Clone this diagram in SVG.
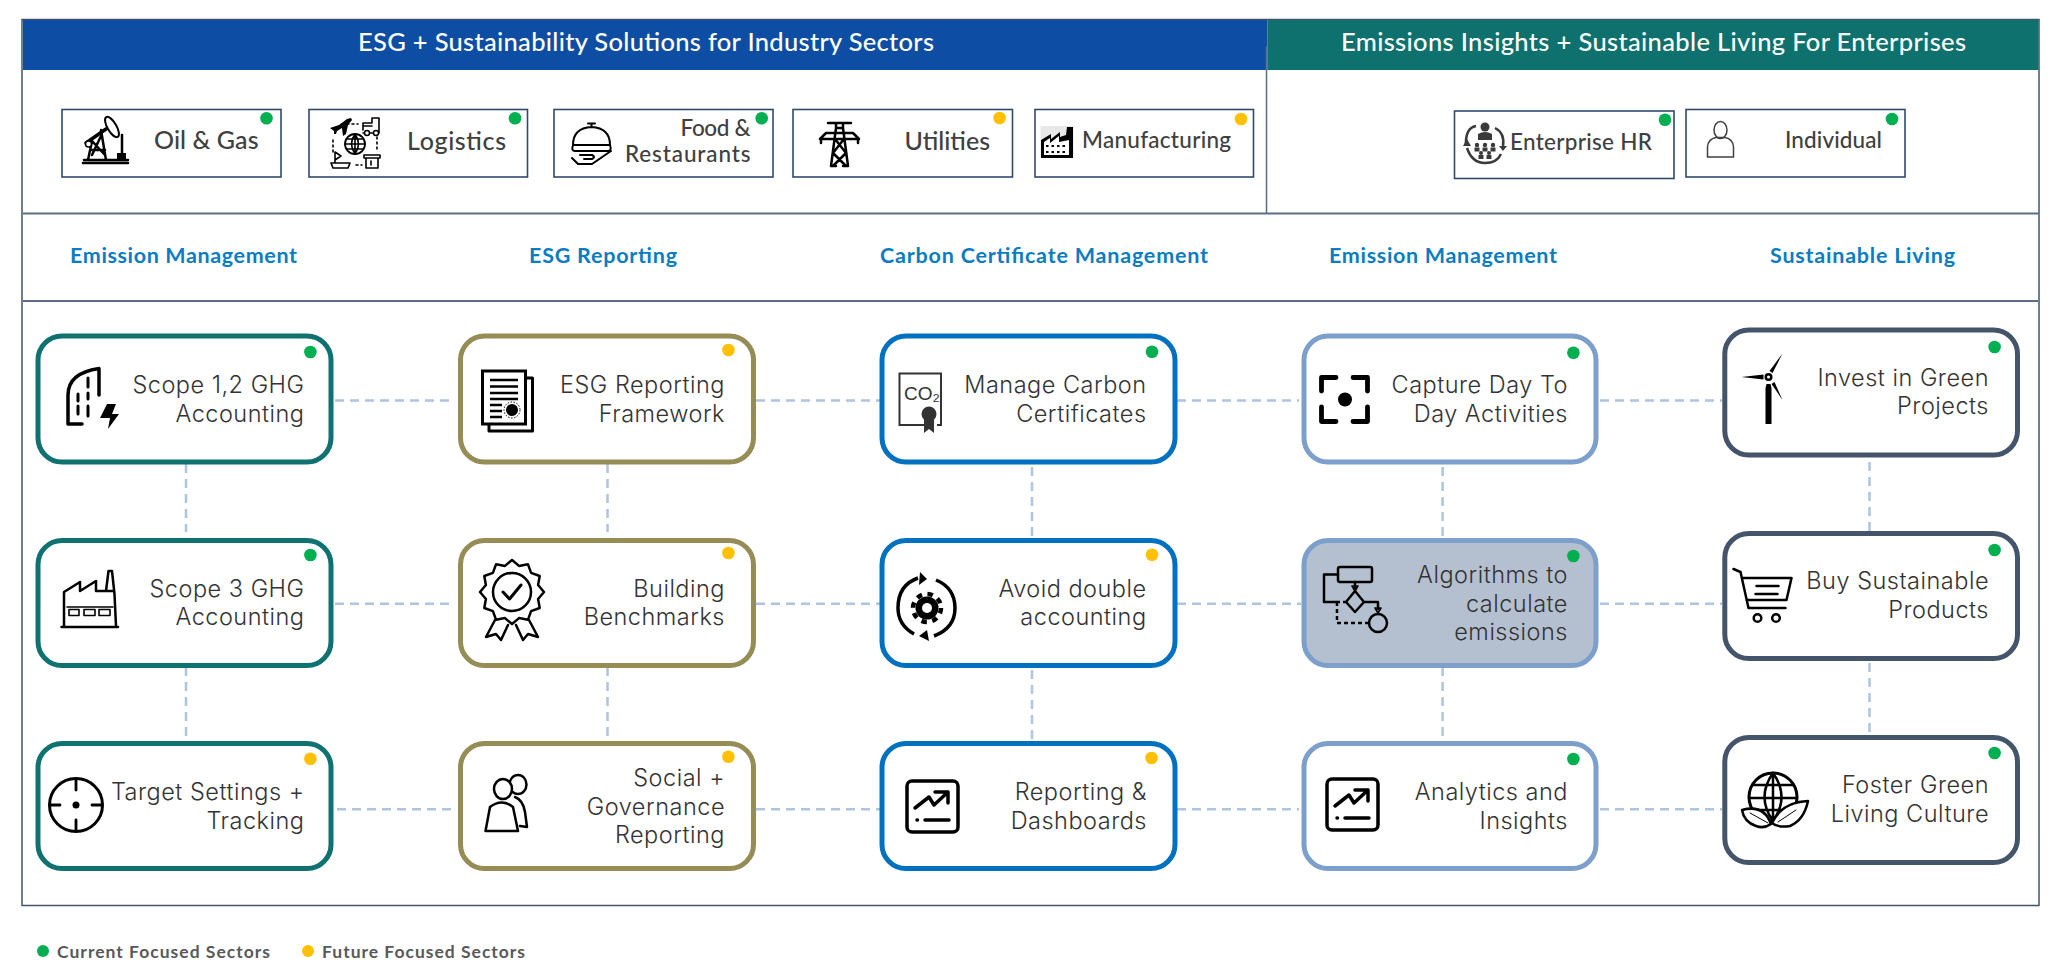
<svg xmlns="http://www.w3.org/2000/svg" width="2048" height="977" viewBox="0 0 2048 977">
<style>
text{font-family:"Lato","Liberation Sans",sans-serif}
.hd{font-size:25.500px;font-weight:500;fill:#fff}
.sub{font-size:21.500px;font-weight:700;fill:#0A7DC2}
.sec{font-size:25px;font-weight:500;fill:#404040}
.sec2{font-size:22.500px;font-weight:500;fill:#404040}
.n{font-family:"Inter","Liberation Sans",sans-serif;font-size:23.500px;font-weight:300;letter-spacing:.5px;fill:#333;text-anchor:end}
.lg{font-size:17.500px;font-weight:700;fill:#595959}
.box{fill:#fff;stroke:#2F4A6D;stroke-width:1.600}
.c1,.c2,.c3,.c4,.c5{fill:#fff;stroke-width:5}
.c1{stroke:#0F7270}.c2{stroke:#968C55}.c3{stroke:#0070C0}.c4{stroke:#7C9FCB}.c5{stroke:#44546A}
.g{fill:#00B050}.y{fill:#FFC000}
.rule{stroke:#5A6E8A;stroke-width:2;fill:none}
.ln{fill:none;stroke:#000;stroke-width:2.500;stroke-linecap:round;stroke-linejoin:round}
.th{stroke-width:1.600}
.k{fill:#000}
#connectors path{fill:none;stroke:#AFC4DE;stroke-width:2.500;stroke-dasharray:9 6}
</style>
<defs>
<g id="chart">
<rect x="907" y="781" width="51" height="51" rx="5" class="ln" style="stroke-width:3.500"/>
<path class="ln" style="stroke-width:3.500" d="M915 808L929 797L934 805L948 792M935 792H948V803"/>
<path class="ln" style="stroke-width:3.500" d="M925 820H949M917 820h.5"/>
</g>
</defs>
<rect width="2048" height="977" fill="#fff"/>
<g id="frame">
<rect x="22" y="19.500" width="2017" height="886" fill="#fff" stroke="#44546A" stroke-width="1.500"/>
<rect x="23" y="20" width="1244.500" height="50" fill="#0E4DA4"/>
<rect x="1267.500" y="20" width="771" height="50" fill="#0E716E"/>
<path class="rule" style="stroke-width:1.500" d="M1266.500 46V213"/>
<path class="rule" d="M23 213.500H2039M23 301H2038"/>
<text class="hd" x="358" y="51" textLength="576">ESG + Sustainability Solutions for Industry Sectors</text>
<text class="hd" x="1341" y="51" textLength="625">Emissions Insights + Sustainable Living For Enterprises</text>
<text class="sub" x="70" y="263" textLength="227">Emission Management</text>
<text class="sub" x="529" y="263" textLength="148">ESG Reporting</text>
<text class="sub" x="880" y="263" textLength="328">Carbon Certificate Management</text>
<text class="sub" x="1329" y="263" textLength="228">Emission Management</text>
<text class="sub" x="1770" y="263" textLength="185">Sustainable Living</text>
</g>
<g id="connectors">
<path d="M335 400.500H455M756 400.500H880M1177 400.500H1299M1600 400.500H1722"/>
<path d="M335 603.700H452M756 603.700H880M1177 603.700H1301M1600 603.700H1722"/>
<path d="M337 809.300H456M756 809.300H880M1177 809.300H1299M1600 809.300H1722"/>
<path d="M186 464V532M186 667V740M607.500 464V532M607.500 667V740M1032 467V538M1032 670V741M1442.600 467V537M1442.600 667V739M1869.500 462V531M1869.500 663V735"/>
</g>
<g id="sector-oil">
<rect class="box" x="62" y="109.500" width="219" height="67.500"/>
<path class="ln" d="M83 163H128M84 160H128M88 160L92 141M106 160L101 130M90 150L105 150M92 141L105 155M92 155L101 136"/>
<path class="ln" style="stroke-width:3.500" d="M86 143L106 129"/>
<ellipse cx="112" cy="127" rx="4.500" ry="11.500" transform="rotate(-30 112 127)" fill="#fff" stroke="#000" stroke-width="2"/>
<circle cx="88.500" cy="144" r="3" fill="#fff" stroke="#000" stroke-width="1.500"/>
<path class="ln" d="M122 135V154"/>
<rect class="k" x="117" y="153" width="9" height="7"/>
<circle class="g" cx="266.500" cy="118.300" r="6.300"/>
<text class="sec" x="154" y="149" textLength="104.500">Oil &amp; Gas</text>
</g>
<g id="sector-logistics">
<rect class="box" x="309" y="109.500" width="218.500" height="67.500"/>
<path class="k" d="M330 128l9-3 8-6 4-1 1 2-4 5-2 9-3 2-1-8-5 3-1 3-2 0 0-3z"/>
<path class="ln th" d="M363 130V123H372V118H379V133H363M363 126H372"/>
<circle cx="367" cy="133" r="2.500" fill="#fff" stroke="#000" stroke-width="1.500"/><circle cx="376" cy="133" r="2.500" fill="#fff" stroke="#000" stroke-width="1.500"/>
<circle class="ln" style="stroke-width:1.800" cx="355" cy="144" r="10"/>
<path class="ln th" d="M345 144H365M347 139H363M347 149H363M355 134V154M355 134Q348 144 355 154M355 134Q362 144 355 154"/>
<path class="ln th" style="stroke-dasharray:2 3" d="M333 140V152M377 137V150M342 124H358M356 165H362"/>
<path class="ln th" d="M335 163V152L341 156L335 160M331 163H350L348 168H333Z"/>
<path class="ln th" d="M364 155H380V158H364ZM366 158V168H378V158M371 161V165"/>
<circle class="g" cx="515" cy="118.300" r="6.300"/>
<text class="sec" x="407" y="149.500" textLength="99">Logistics</text>
</g>
<g id="sector-food">
<rect class="box" x="554" y="109.500" width="219" height="67.500"/>
<path class="ln" style="stroke-width:2" d="M573 145Q573 128 591.500 127Q610 128 610 145ZM588 123.500H595M591.500 124V127"/>
<path class="ln" style="stroke-width:2" d="M573 145Q571 151 575 151H608Q612 151 610 145M572 158L578 164H592L611 151M580 155H592Q596 157 592 159H584"/>
<circle class="g" cx="761.700" cy="118.300" r="6.300"/>
<text class="sec2" x="750.500" y="136" text-anchor="end" textLength="70">Food &amp;</text>
<text class="sec2" x="750.500" y="162" text-anchor="end" textLength="125.500">Restaurants</text>
</g>
<g id="sector-utilities">
<rect class="box" x="793" y="109.500" width="219.500" height="67.500"/>
<path class="ln" d="M831 166L836 128H843L848 166M828 123H851M836 123V128M843 123V128M821 143V139H858V143M826 133H853L859 139M826 133L820 139M835 139L846 153L833 166M844 139L833 153L846 166M831 166H836M843 166H848"/>
<circle class="y" cx="999.600" cy="118" r="6.300"/>
<text class="sec" x="904.500" y="149.500" textLength="85.500">Utilities</text>
</g>
<g id="sector-manufacturing">
<rect class="box" x="1035" y="109.500" width="218.500" height="67.500"/>
<rect x="1040.500" y="126" width="33" height="32" fill="#E8E8E8"/>
<path class="k" d="M1041 158V140L1051 134V139L1060 132V137L1066 135L1067 127H1073V158Z"/>
<path fill="#fff" d="M1044 142L1050 138V143L1059 136V142L1069 140V155H1044Z"/>
<path class="ln" style="stroke-width:2;stroke-dasharray:2.500 3;stroke-linecap:butt" d="M1046 146H1068M1046 152H1068"/>
<circle class="y" cx="1241" cy="119" r="6.300"/>
<text class="sec2" x="1082" y="148" textLength="149">Manufacturing</text>
</g>
<g id="sector-hr">
<rect class="box" x="1454.500" y="111" width="219.500" height="67.500"/>
<path fill="none" stroke="#3A3A3A" stroke-width="2.500" d="M1466 146Q1465 128 1476 126M1495 128Q1505 133 1503 146M1467 148Q1472 163 1485 163Q1497 163 1501 154"/>
<path fill="#3A3A3A" d="M1463 146L1467 139L1471 146ZM1499 146L1507 146L1503 151Z"/>
<circle cx="1485" cy="127" r="4.500" fill="#3A3A3A"/><path fill="#3A3A3A" d="M1478 140V134Q1485 130 1492 134V140Z"/>
<g fill="#3A3A3A">
<circle cx="1477" cy="145" r="2.200"/><circle cx="1485" cy="145" r="2.200"/><circle cx="1493" cy="145" r="2.200"/>
<rect x="1474.500" y="147.500" width="5" height="4"/><rect x="1482.500" y="147.500" width="5" height="4"/><rect x="1490.500" y="147.500" width="5" height="4"/>
<circle cx="1481" cy="153" r="2"/><circle cx="1489" cy="153" r="2"/><rect x="1478.500" y="155" width="5" height="4"/><rect x="1486.500" y="155" width="5" height="4"/>
</g>
<circle class="g" cx="1665" cy="119.700" r="6.300"/>
<text class="sec2" x="1510" y="150" textLength="142">Enterprise HR</text>
</g>
<g id="sector-individual">
<rect class="box" x="1686" y="109.500" width="219" height="67.500"/>
<ellipse cx="1720.500" cy="130" rx="6.500" ry="8.500" fill="none" stroke="#404040" stroke-width="1.500"/>
<path fill="none" stroke="#404040" stroke-width="1.500" d="M1707.500 157V147Q1708 139 1716 137.500H1725Q1733 139 1733.500 147V157Z"/>
<circle class="g" cx="1892" cy="119" r="6.300"/>
<text class="sec2" x="1785" y="148" textLength="97">Individual</text>
</g>

<g id="node-scope12">
<rect class="c1" x="38" y="336" width="293" height="126" rx="24"/>
<path class="ln" style="stroke-width:3.500" d="M82 424H68V395Q68 373 99 368.500V395"/>
<path class="ln" style="stroke-width:3" d="M88 378V387M88 393V399M88 406V416M78 394V401M78 406V414"/>
<path class="k" d="M107 404H116L112 414H119L108 429L110 418H100Z"/>
<circle class="g" cx="310.400" cy="352" r="6.300"/>
<text class="n" x="304.500" y="392.700">Scope 1,2 GHG</text><text class="n" x="304.500" y="421.700">Accounting</text>
</g>
<g id="node-scope3">
<rect class="c1" x="38" y="540.500" width="293" height="125" rx="24"/>
<path class="ln" d="M61.500 627H118M64 626V592L80 582V591L96 581V591H114M106 591L108.500 571H112L114.500 594L116 626"/>
<path class="ln" style="stroke-width:1.600" d="M67 607H113M69 609.500H79V615.500H69ZM84 609.500H95V615.500H84ZM99 609.500H110V615.500H99Z"/>
<circle class="g" cx="310.400" cy="555" r="6.300"/>
<text class="n" x="304.500" y="596.700">Scope 3 GHG</text><text class="n" x="304.500" y="625">Accounting</text>
</g>
<g id="node-target">
<rect class="c1" x="38" y="743.500" width="293" height="125" rx="24"/>
<circle class="ln" style="stroke-width:3" cx="76" cy="805" r="26.500"/>
<path class="ln" style="stroke-width:2.800" d="M76 779V790M76 820V831M50 805H60M92 805H102"/>
<circle class="k" cx="76" cy="805" r="3.500"/>
<circle class="y" cx="310.400" cy="758.700" r="6.300"/>
<text class="n" x="304.500" y="800">Target Settings +</text><text class="n" x="304.500" y="829">Tracking</text>
</g>
<g id="node-esgframework">
<rect class="c2" x="460.500" y="336" width="293" height="126" rx="24"/>
<path class="ln" style="stroke-width:3" d="M489 424V431H532.500V378H526"/>
<rect x="482.500" y="371" width="43" height="53" fill="#fff" stroke="#000" stroke-width="3"/>
<path class="ln" style="stroke-width:2.500;stroke-linecap:butt" d="M490 380H518M490 386.500H518M490 393H518M490 399H518M490 405H502M490 411H502M490 417H502"/>
<circle class="k" cx="512" cy="410" r="6"/><circle fill="none" stroke="#000" stroke-dasharray="1.500 1.500" cx="512" cy="410" r="8"/>
<circle class="y" cx="728.400" cy="350" r="6.300"/>
<text class="n" x="725" y="392.700">ESG Reporting</text><text class="n" x="725" y="421.700">Framework</text>
</g>
<g id="node-benchmarks">
<rect class="c2" x="460.500" y="540.500" width="293" height="125" rx="24"/>
<path class="ln" d="M544 592L538.100 599L539.700 608L531.100 611.100L528 619.700L519 618.100L512 624L505 618.100L496 619.700L492.900 611.100L484.300 608L485.900 599L480 592L485.900 585L484.300 576L492.900 572.900L496 564.300L505 565.900L512 560L519 565.900L528 564.300L531.100 572.900L539.700 576L538.100 585Z"/>
<circle class="ln" cx="512" cy="592" r="19"/>
<path class="ln" style="stroke-width:3" d="M503 592L509.500 599L521 585"/>
<path class="ln" d="M495 620L486 637L496 634L501 640L508 625M529 620L538 637L528 634L523 640L516 625"/>
<circle class="y" cx="728.400" cy="553" r="6.300"/>
<text class="n" x="725" y="596.700">Building</text><text class="n" x="725" y="625">Benchmarks</text>
</g>
<g id="node-social">
<rect class="c2" x="460.500" y="743.500" width="293" height="125" rx="24"/>
<ellipse class="ln" cx="518" cy="784.500" rx="8.500" ry="9.500"/>
<path class="ln" d="M515 797Q523 800 525 812L527 827L520 826"/>
<ellipse cx="503" cy="789" rx="9" ry="10" fill="#fff" stroke="#000" stroke-width="2.500"/>
<path class="ln" d="M485.500 831L490 807Q502 798 513 807L518 831Z"/>
<circle class="y" cx="728.400" cy="756.700" r="6.300"/>
<text class="n" x="725" y="786">Social +</text><text class="n" x="725" y="814.700">Governance</text><text class="n" x="725" y="843">Reporting</text>
</g>
<g id="node-certs">
<rect class="c3" x="882" y="336" width="293" height="126" rx="24"/>
<path fill="none" stroke="#333" stroke-width="2" d="M926 425H899.500V373.500H941V425H937"/>
<text x="904" y="400" style="font-size:19px;fill:#333;font-family:'Liberation Sans',sans-serif">CO₂</text>
<circle cx="929" cy="414" r="7.500" fill="#333"/>
<path fill="#333" d="M924 420H934V433L929 429L924 433Z"/>
<circle class="g" cx="1152" cy="351.700" r="6.300"/>
<text class="n" x="1146.600" y="392.700">Manage Carbon</text><text class="n" x="1146.600" y="421.700">Certificates</text>
</g>
<g id="node-double">
<rect class="c3" x="882" y="540.500" width="293" height="125" rx="24"/>
<path class="ln" style="stroke-width:3.500;stroke-linecap:butt" d="M918 578Q898 585 898 608Q898 625 914 634M936 580Q955 588 955 608Q955 628 934 636"/>
<path class="k" d="M920 572L927 579L919 585ZM927 630L929 641L919 636Z"/>
<circle cx="927" cy="608" r="11.500" class="k"/>
<circle cx="927" cy="608" r="14" fill="none" stroke="#000" stroke-width="4.500" stroke-dasharray="5.500 5.500"/>
<circle cx="927" cy="608" r="5" fill="#fff"/>
<circle class="y" cx="1152" cy="554.700" r="6.300"/>
<text class="n" x="1146.600" y="596.700">Avoid double</text><text class="n" x="1146.600" y="625">accounting</text>
</g>
<g id="node-dashboards">
<rect class="c3" x="882" y="743.500" width="293" height="125" rx="24"/>
<use href="#chart"/>
<circle class="y" cx="1151.500" cy="758" r="6.300"/>
<text class="n" x="1147" y="800">Reporting &amp;</text><text class="n" x="1147" y="829">Dashboards</text>
</g>
<g id="node-capture">
<rect class="c4" x="1304" y="336" width="292" height="126" rx="24"/>
<path class="ln" style="stroke-width:4.800" d="M1321.500 391V377.500H1336M1353 377.500H1367.500V391M1321.500 407V421.500H1336M1353 421.500H1367.500V407"/>
<circle class="k" cx="1345" cy="399.500" r="7"/>
<circle class="g" cx="1573.400" cy="352.700" r="6.300"/>
<text class="n" x="1568" y="392.700">Capture Day To</text><text class="n" x="1568" y="421.700">Day Activities</text>
</g>
<g id="node-algorithms">
<rect class="c4" style="fill:#B4C0CF" x="1304" y="540.500" width="292" height="125" rx="24"/>
<rect x="1338" y="567" width="34" height="15" rx="2" fill="none" stroke="#000" stroke-width="2.500"/>
<path class="ln" d="M1338 574.500H1324V602H1336M1355 582V590"/>
<path class="ln" style="stroke-dasharray:4 3;stroke-linecap:butt" d="M1337 602V623H1369M1336 602H1346"/>
<path class="ln" d="M1355 591L1346 602L1355 612L1364 602ZM1364 602H1378V609"/>
<path class="ln th" d="M1352 586H1358L1355 591ZM1375 608H1381L1378 613Z"/>
<circle class="ln" cx="1378" cy="623" r="9"/>
<circle class="g" cx="1573.400" cy="556" r="6.300"/>
<text class="n" x="1568" y="583">Algorithms to</text><text class="n" x="1568" y="612">calculate</text><text class="n" x="1568" y="640">emissions</text>
</g>
<g id="node-analytics">
<rect class="c4" x="1304" y="743.500" width="292" height="125" rx="24"/>
<use href="#chart" transform="translate(420 -2)"/>
<circle class="g" cx="1573.400" cy="759" r="6.300"/>
<text class="n" x="1568" y="800">Analytics and</text><text class="n" x="1568" y="829">Insights</text>
</g>
<g id="node-invest">
<rect class="c5" x="1724.800" y="330" width="292.700" height="125" rx="24"/>
<g transform="translate(-3.500 0)">
<path class="k" d="M1769 424V388L1770 384H1774L1775 388V424ZM1745 377L1767 374.500V379.500ZM1786 353.500L1776 373L1773 371ZM1786 400L1775 384L1778 382Z"/>
<circle cx="1772" cy="377" r="4" fill="#000"/><circle cx="1772" cy="377" r="1.500" fill="#fff"/>
</g>
<circle class="g" cx="1994.600" cy="347" r="6.300"/>
<text class="n" x="1989" y="386">Invest in Green</text><text class="n" x="1989" y="414">Projects</text>
</g>
<g id="node-buy">
<rect class="c5" x="1724.800" y="533.500" width="292.700" height="125" rx="24"/>
<g transform="translate(-3.500 0)">
<path class="ln" d="M1737 569L1744 572L1752 608H1789M1746 578H1795L1790 600H1750M1760 586H1782M1759 594H1781"/>
<circle class="ln" cx="1761" cy="618" r="3.800"/><circle class="ln" cx="1779.500" cy="618" r="3.800"/>
</g>
<circle class="g" cx="1994.600" cy="550" r="6.300"/>
<text class="n" x="1989" y="589">Buy Sustainable</text><text class="n" x="1989" y="618">Products</text>
</g>
<g id="node-foster">
<rect class="c5" x="1724.800" y="737.500" width="292.700" height="125" rx="24"/>
<g transform="translate(-4 0)">
<circle class="ln" style="stroke-width:3" cx="1777" cy="797" r="24"/>
<path class="ln" d="M1777 773V821M1777 773Q1760 797 1777 821M1777 773Q1794 797 1777 821M1757 785H1797M1753 798H1801M1757 810H1797"/>
<path d="M1746 810Q1768 804 1775 824Q1768 829 1760 826Q1748 822 1746 810Z" fill="#fff" stroke="#000" stroke-width="2.500" stroke-linejoin="round"/>
<path d="M1812 801Q1786 802 1776 823Q1782 828 1794 826Q1808 820 1812 801Z" fill="#fff" stroke="#000" stroke-width="2.500" stroke-linejoin="round"/>
<path class="ln" style="stroke-width:1" d="M1754 813L1772 823M1782 822L1800 810"/>
</g>
<circle class="g" cx="1994.600" cy="753" r="6.300"/>
<text class="n" x="1989" y="793">Foster Green</text><text class="n" x="1989" y="822">Living Culture</text>
</g>
<g id="legend">
<circle class="g" cx="43" cy="951" r="6"/>
<text class="lg" x="57" y="958" textLength="213">Current Focused Sectors</text>
<circle class="y" cx="308" cy="951" r="6"/>
<text class="lg" x="322" y="958" textLength="203">Future Focused Sectors</text>
</g>
</svg>
